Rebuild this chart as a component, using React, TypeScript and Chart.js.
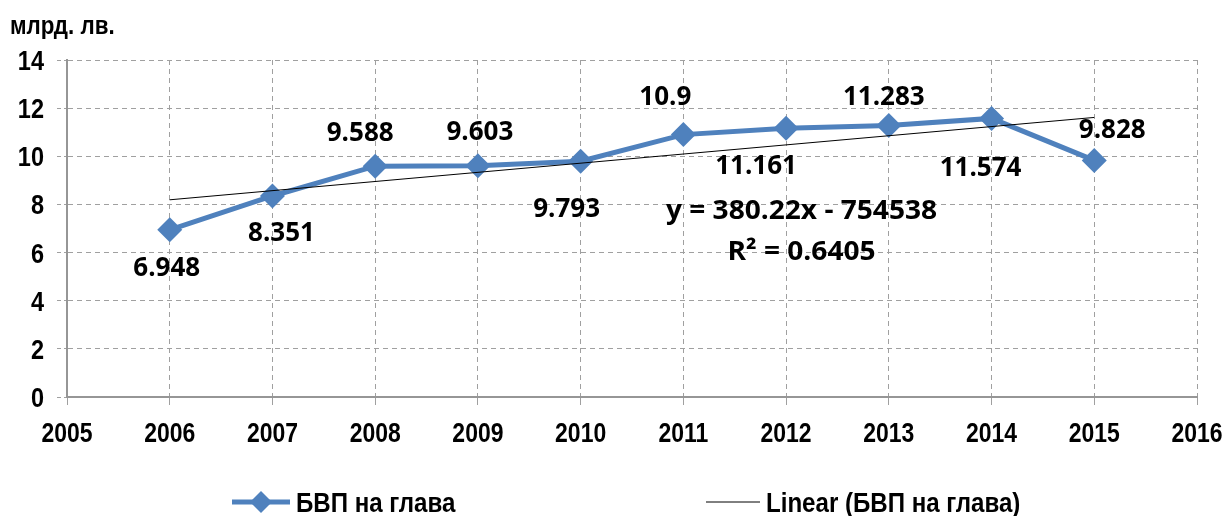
import React, { useEffect, useRef } from "react";
import { Chart, registerables } from "chart.js";

Chart.register(...registerables);

const years = [2006, 2007, 2008, 2009, 2010, 2011, 2012, 2013, 2014, 2015];
const gdpPerCapita = [6.948, 8.351, 9.588, 9.603, 9.793, 10.9, 11.161, 11.283, 11.574, 9.828];
const valueLabels = ["6.948", "8.351", "9.588", "9.603", "9.793", "10.9", "11.161", "11.283", "11.574", "9.828"];
const labelDx = [-3, 9, -15, 2, -14, -18, -30, -5, -11, 18];
const labelDy = [37, 36, -35, -35, 46, -39, 36, -30, 48, -32];
const xTicks = [2005, 2006, 2007, 2008, 2009, 2010, 2011, 2012, 2013, 2014, 2015, 2016];
const yTicks = [0, 2, 4, 6, 8, 10, 12, 14];
const seriesName = "БВП на глава";
const trendName = "Linear (БВП на глава)";
const equationText = "y = 380.22x - 754538";
const r2Text = "R² = 0.6405";
const yTitle = "млрд. лв.";

const BLUE = "#4F81BD";
const SANS = "'Liberation Sans', Arial, sans-serif";
const LABELF = "'Open Sans', 'Liberation Sans', sans-serif";
const NARROW_X = 0.82;

function linearFit(xs: number[], ys: number[]) {
  const n = xs.length;
  const mx = xs.reduce((a, b) => a + b, 0) / n;
  const my = ys.reduce((a, b) => a + b, 0) / n;
  let num = 0, den = 0;
  for (let i = 0; i < n; i++) {
    num += (xs[i] - mx) * (ys[i] - my);
    den += (xs[i] - mx) * (xs[i] - mx);
  }
  const slope = num / den;
  return { slope, intercept: my - slope * mx };
}

const fit = linearFit(years, gdpPerCapita);
const trendPoints = [years[0], years[years.length - 1]].map((x) => ({ x, y: fit.intercept + fit.slope * x }));

function drawText(ctx: any, text: string, x: number, y: number, sx: number, align: string) {
  ctx.save();
  ctx.translate(x, y);
  ctx.scale(sx, 1);
  ctx.textAlign = align;
  ctx.fillText(text, 0, 0);
  ctx.restore();
}

const overlayPlugin = {
  id: "overlay",
  afterDatasetsDraw(chart: any) {
    const ctx = chart.ctx;
    const xs = chart.scales.x;
    const ys = chart.scales.y;
    ctx.save();
    ctx.fillStyle = "#000";
    ctx.textBaseline = "alphabetic";
    // data labels
    ctx.font = `bold 26px ${LABELF}`;
    years.forEach((yr, i) => {
      const px = xs.getPixelForValue(yr) + labelDx[i];
      const py = ys.getPixelForValue(gdpPerCapita[i]) + labelDy[i] + 9.3;
      drawText(ctx, valueLabels[i], px, py, 1, "center");
    });
    // equation
    ctx.font = `bold 26px ${LABELF}`;
    const ex = xs.getPixelForValue(2012.15);
    drawText(ctx, equationText, ex, ys.getPixelForValue(7.77) + 9.3, 1.08, "center");
    drawText(ctx, r2Text, ex, ys.getPixelForValue(6.07) + 9.3, 1.08, "center");
    ctx.restore();
  },
  afterDraw(chart: any) {
    const ctx = chart.ctx;
    const xs = chart.scales.x;
    const ys = chart.scales.y;
    ctx.save();
    ctx.fillStyle = "#000";
    ctx.textBaseline = "alphabetic";
    // tick labels
    ctx.font = `bold 28px ${SANS}`;
    xTicks.forEach((t) => drawText(ctx, String(t), xs.getPixelForValue(t), 442, NARROW_X, "center"));
    yTicks.forEach((t) => drawText(ctx, String(t), 44, ys.getPixelForValue(t) + 10, 0.84, "right"));
    // y title
    ctx.font = `bold 26px ${SANS}`;
    drawText(ctx, yTitle, 10, 34, 0.86, "left");
    // legend
    const ly = 502;
    ctx.strokeStyle = BLUE;
    ctx.lineWidth = 5;
    ctx.beginPath();
    ctx.moveTo(232, ly);
    ctx.lineTo(290, ly);
    ctx.stroke();
    ctx.fillStyle = BLUE;
    ctx.beginPath();
    ctx.moveTo(261, ly - 11);
    ctx.lineTo(272, ly);
    ctx.lineTo(261, ly + 11);
    ctx.lineTo(250, ly);
    ctx.closePath();
    ctx.fill();
    ctx.fillStyle = "#000";
    ctx.font = `bold 28px ${SANS}`;
    drawText(ctx, seriesName, 296, ly + 10, 0.86, "left");
    ctx.strokeStyle = "#000";
    ctx.lineWidth = 1;
    ctx.beginPath();
    ctx.moveTo(706, ly);
    ctx.lineTo(760, ly);
    ctx.stroke();
    drawText(ctx, trendName, 766, ly + 10, 0.86, "left");
    ctx.restore();
  },
};

export default function App() {
  const ref = useRef<HTMLCanvasElement>(null);
  useEffect(() => {
    const chart = new Chart(ref.current!, {
      type: "line",
      data: {
        datasets: [
          {
            label: seriesName,
            data: years.map((x, i) => ({ x, y: gdpPerCapita[i] })),
            borderColor: BLUE,
            backgroundColor: BLUE,
            borderWidth: 5,
            pointStyle: "rectRot",
            pointRadius: 12.5,
            pointBorderWidth: 0,
            pointBackgroundColor: BLUE,
            tension: 0,
            order: 1,
          },
          {
            label: trendName,
            data: trendPoints,
            borderColor: "#000",
            borderWidth: 1,
            pointRadius: 0,
            order: 0,
          },
        ],
      },
      options: {
        animation: false,
        responsive: false,
        maintainAspectRatio: false,
        layout: { padding: { left: 0, right: 29, top: 60, bottom: 0 } },
        plugins: { legend: { display: false }, tooltip: { enabled: false } },
        scales: {
          x: {
            type: "linear",
            min: 2005,
            max: 2016,
            afterFit: (s: any) => { s.height = 119; s.paddingLeft = 0; s.paddingRight = 0; },
            ticks: { stepSize: 1, display: false },
            grid: { color: "#A0A0A0", lineWidth: 1, tickLength: 8, tickColor: "#A0A0A0" },
            border: { display: true, color: "#969696", width: 2, dash: [5, 4] },
          },
          y: {
            min: 0,
            max: 14,
            afterFit: (s: any) => { s.width = 67; s.paddingTop = 0; s.paddingBottom = 0; },
            ticks: { stepSize: 2, display: false },
            grid: { color: "#A0A0A0", lineWidth: 1, tickLength: 10, tickColor: "#A0A0A0", tickBorderDash: [4, 3] },
            border: { display: true, color: "#969696", width: 2, dash: [5, 4] },
          },
        },
      },
      plugins: [overlayPlugin],
    });
    return () => chart.destroy();
  }, []);
  return (
    <div style={{ position: "fixed", left: 0, top: 0, width: 1226, height: 516, background: "#fff" }}>
      <canvas ref={ref} width={1226} height={516} style={{ width: 1226, height: 516, display: "block" }} />
    </div>
  );
}
